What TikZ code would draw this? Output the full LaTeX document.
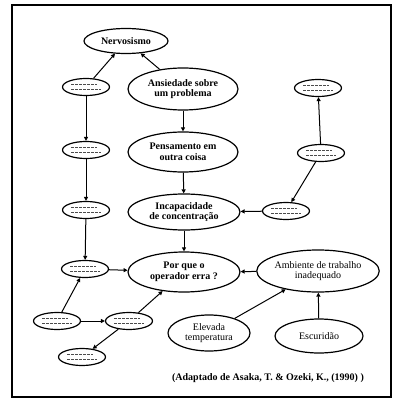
\documentclass[tikz,border=0pt]{standalone}
\usepackage{fontspec}
\setmainfont{Liberation Serif}
\usetikzlibrary{shapes.geometric,arrows.meta}
\begin{document}
\begin{tikzpicture}[x=1pt,y=-1pt,
  big/.style={ellipse,draw,line width=1.2pt,inner sep=0pt,align=center,
    font=\fontsize{10}{10.5}\selectfont\bfseries},
  plain/.style={big,font=\fontsize{10}{10.5}\selectfont},
  small/.style={ellipse,draw,line width=1.2pt,inner sep=0pt,
    minimum width=47pt,minimum height=17pt},
  link/.style={line width=1pt,-{Triangle[length=4pt,width=4pt]}},
  scribble/.style={gray!60!black,line width=1.1pt,dash pattern=on 2.5pt off 1.5pt}]
\useasboundingbox (0,0) rectangle (400,403);
\draw[line width=1.3pt] (12,5) rectangle (391,397);

% main concepts
\node[big,minimum width=84pt,minimum height=25pt] (nerv) at (126,41) {Nervosismo};
\node[big,minimum width=110pt,minimum height=42pt] (ans) at (183,89) {Ansiedade sobre\\um problema};
\node[big,minimum width=110pt,minimum height=40pt] (pens) at (183,152) {Pensamento em\\outra coisa};
\node[big,minimum width=112pt,minimum height=36pt] (inc) at (184,212) {Incapacidade\\de concentração};
\node[big,minimum width=112pt,minimum height=40pt] (erra) at (184,272) {Por que o\\operador erra ?};
\node[plain,minimum width=120pt,minimum height=42pt] (amb) at (318,271) {Ambiente de trabalho\\inadequado};
\node[plain,minimum width=82pt,minimum height=36pt] (elev) at (209,333) {Elevada\\temperatura};
\node[plain,minimum width=88pt,minimum height=34pt] (esc) at (319,336) {Escuridão};

% small concepts
\node[small] (l1) at (86,87) {};
\node[small] (l2) at (86,150) {};
\node[small] (l3) at (86,210) {};
\node[small] (l4) at (85,269) {};
\node[small] (l5) at (57,321) {};
\node[small] (l6) at (129,321) {};
\node[small] (l7) at (82,357) {};
\node[small] (r1) at (318,88) {};
\node[small] (r2) at (321,153) {};
\node[small] (r3) at (286,211) {};

% faint label lines inside the small concepts
\foreach \n in {l1,l2,l3,l4,l5,l6,l7,r1,r2,r3}{
  \draw[scribble] ([xshift=-15pt,yshift=-2.5pt]\n.center) -- ([xshift=15pt,yshift=-2.5pt]\n.center);
  \draw[scribble] ([xshift=-15pt,yshift=2.5pt]\n.center) -- ([xshift=11pt,yshift=2.5pt]\n.center);
}

% links
\draw[link] (l1) -- (nerv);
\draw[link] (ans) -- (nerv);
\draw[link] (ans) -- (pens);
\draw[link] (pens) -- (inc);
\draw[link] (inc) -- (erra);
\draw[link] (l1) -- (l2);
\draw[link] (l2) -- (l3);
\draw[link] (l3) -- (l4);
\draw[link] (l4) -- (erra);
\draw[link] (l5) -- (l4);
\draw[link] (l5) -- (l6);
\draw[link] (l6) -- (erra);
\draw[link] (l6) -- (l7);
\draw[link] (r2) -- (r1);
\draw[link] (r2) -- (r3);
\draw[link] (r3) -- (inc);
\draw[link] (amb) -- (erra);
\draw[link] (elev) -- (amb);
\draw[link] (esc) -- (amb);

\node[font=\fontsize{10}{11}\selectfont\bfseries] (cite) at (268,378) {(Adaptado de Asaka, T. \& Ozeki, K., (1990) )};
\end{tikzpicture}
\end{document}
